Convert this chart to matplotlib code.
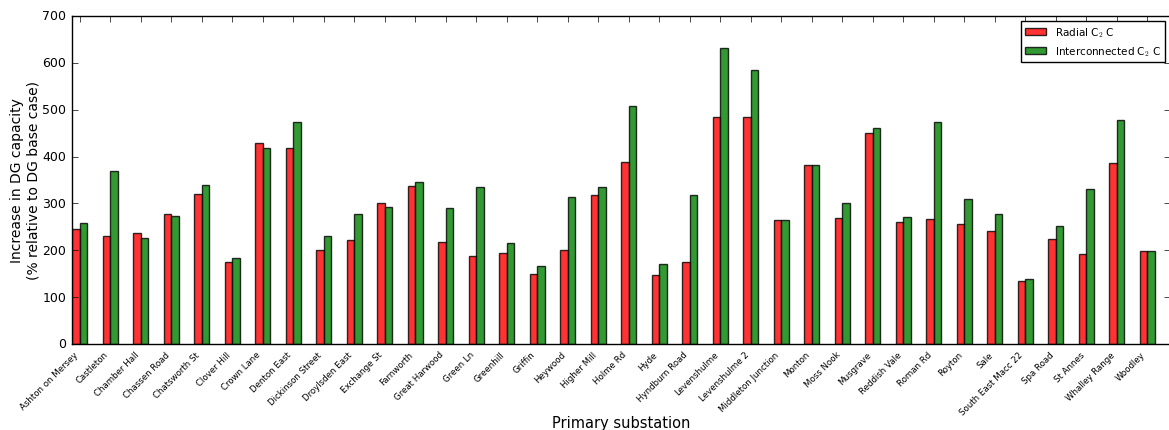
import matplotlib
matplotlib.use('Agg')
import matplotlib.pyplot as plt
import numpy as np

plt.style.use('classic')

# Substations and DG capacity increase (% relative to DG base case)
substations = ['Ashton on Mersey', 'Castleton', 'Chamber Hall', 'Chassen Road',
               'Chatsworth St', 'Clover Hill', 'Crown Lane', 'Denton East',
               'Dickinson Street', 'Droylsden East', 'Exchange St', 'Farnworth',
               'Great Harwood', 'Green Ln', 'Greenhill', 'Griffin', 'Heywood',
               'Higher Mill', 'Holme Rd', 'Hyde', 'Hyndburn Road', 'Levenshulme',
               'Levenshulme 2', 'Middleton Junction', 'Monton', 'Moss Nook',
               'Musgrave', 'Reddish Vale', 'Roman Rd', 'Royton', 'Sale',
               'South East Macc 22', 'Spa Road', 'St Annes', 'Whalley Range',
               'Woodley']
radial = [245, 231, 237, 277, 321, 175, 429, 418, 201, 222, 300, 337,
          218, 187, 195, 150, 200, 318, 388, 148, 174, 485,
          485, 265, 382, 269, 451, 260, 266, 256, 241,
          134, 225, 192, 386, 199]
interconnected = [258, 369, 226, 273, 340, 184, 418, 474, 230, 278, 293, 346,
                  290, 335, 216, 166, 313, 335, 508, 170, 319, 632,
                  585, 265, 382, 300, 462, 270, 473, 310, 277,
                  139, 252, 330, 477, 199]

ind = np.arange(len(substations))
width = 0.25

fig = plt.figure(figsize=(11.69, 4.31), dpi=100)
ax = fig.add_axes([72 / 1169, 1 - 345 / 431, 1098 / 1169, 328 / 431])

ax.bar(ind, radial, width, color='r', alpha=0.8, align='edge',
       label=r'Radial C$_2$ C')
ax.bar(ind + width, interconnected, width, color='g', alpha=0.8, align='edge',
       label=r'Interconnected C$_2$ C')

ax.set_xlim(0, len(substations))
ax.set_ylim(0, 700)
ax.set_xticks(ind + width)
ax.set_xticklabels(substations, rotation=45, ha='right', fontsize=6.2)
ax.tick_params(axis='y', labelsize=9)
ax.set_ylabel('Increase in DG capacity\n(% relative to DG base case)', fontsize=10)
ax.yaxis.set_label_coords(-0.029, 0.5)
ax.set_xlabel('Primary substation', fontsize=10.5)
ax.xaxis.set_label_coords(0.5, -0.215)
ax.legend(loc='upper right', fontsize=7.5)

fig.savefig('out.png', dpi=100)
